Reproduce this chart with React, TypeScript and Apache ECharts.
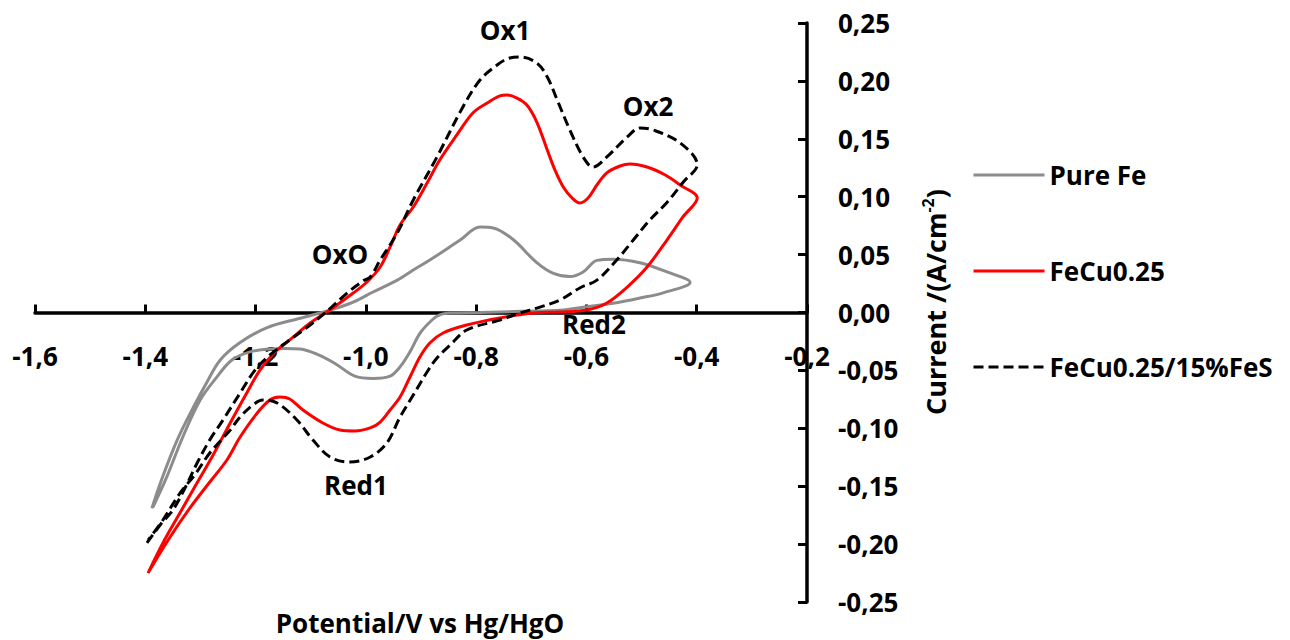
import React, { useEffect, useRef } from "react";
import * as echarts from "echarts";

// ---- Data (potential V vs Hg/HgO, current A/cm^2) ----
const seriesNames = ["Pure Fe", "FeCu0.25", "FeCu0.25/15%FeS"];

const pureFeAnodic: number[][] = [
  [-1.388, -0.169], [-1.371, -0.145], [-1.342, -0.110], [-1.313, -0.082], [-1.288, -0.060],
  [-1.264, -0.041], [-1.228, -0.026], [-1.179, -0.013], [-1.119, -0.005], [-1.065, 0.002],
  [-1.023, 0.009], [-0.987, 0.0177], [-0.943, 0.028], [-0.914, 0.0367], [-0.884, 0.0453],
  [-0.829, 0.0626], [-0.793, 0.0738], [-0.769, 0.073], [-0.733, 0.063], [-0.690, 0.043],
  [-0.661, 0.034], [-0.630, 0.031], [-0.606, 0.035], [-0.581, 0.045], [-0.552, 0.046],
  [-0.503, 0.043], [-0.454, 0.035], [-0.412, 0.026],
];
const pureFeCathodic: number[][] = [
  [-0.461, 0.017], [-0.503, 0.0125], [-0.552, 0.008], [-0.599, 0.005], [-0.648, 0.002],
  [-0.720, 0.001], [-0.793, 0.0], [-0.847, -0.0005], [-0.866, -0.002], [-0.880, -0.0065],
  [-0.902, -0.018], [-0.920, -0.034], [-0.938, -0.047], [-0.956, -0.055], [-0.987, -0.057],
  [-1.020, -0.055], [-1.056, -0.044], [-1.089, -0.036], [-1.119, -0.0315], [-1.147, -0.031],
  [-1.174, -0.0315], [-1.210, -0.034], [-1.243, -0.041], [-1.274, -0.058], [-1.301, -0.076],
  [-1.332, -0.1075], [-1.361, -0.142], [-1.386, -0.168],
];

const feCuAnodic: number[][] = [
  [-1.395, -0.225], [-1.368, -0.199], [-1.337, -0.173], [-1.306, -0.147], [-1.277, -0.123],
  [-1.246, -0.0954], [-1.216, -0.0695], [-1.192, -0.0497], [-1.165, -0.0341], [-1.138, -0.0237],
  [-1.101, -0.0091], [-1.060, 0.0039], [-1.023, 0.0168], [-0.998, 0.0263], [-0.974, 0.0393],
  [-0.956, 0.0566], [-0.938, 0.0756], [-0.914, 0.0911], [-0.889, 0.1118], [-0.866, 0.1317],
  [-0.835, 0.1533], [-0.806, 0.1723], [-0.780, 0.1809], [-0.757, 0.187], [-0.744, 0.1878],
  [-0.726, 0.1852], [-0.708, 0.1792], [-0.690, 0.1645], [-0.671, 0.1403], [-0.657, 0.123],
  [-0.642, 0.1084], [-0.626, 0.0989], [-0.612, 0.0946], [-0.597, 0.0989], [-0.581, 0.1101],
  [-0.563, 0.1205], [-0.539, 0.1265], [-0.521, 0.1282], [-0.490, 0.1256], [-0.457, 0.1187],
  [-0.430, 0.1101], [-0.399, 0.0989],
];
const feCuCathodic: number[][] = [
  [-0.425, 0.0825], [-0.454, 0.0626], [-0.490, 0.0393], [-0.526, 0.022], [-0.563, 0.0082],
  [-0.599, 0.0022], [-0.648, 0.0004], [-0.697, -0.0004], [-0.757, -0.0047], [-0.817, -0.0108],
  [-0.860, -0.0177], [-0.884, -0.0263], [-0.902, -0.0384], [-0.920, -0.0557], [-0.938, -0.073],
  [-0.956, -0.0842], [-0.974, -0.0946], [-0.992, -0.0997], [-1.020, -0.1023], [-1.047, -0.1015],
  [-1.078, -0.0954], [-1.114, -0.0842], [-1.138, -0.0747], [-1.156, -0.073], [-1.174, -0.0756],
  [-1.197, -0.0868], [-1.228, -0.1075], [-1.252, -0.1274], [-1.283, -0.1464], [-1.319, -0.1688],
  [-1.355, -0.1939], [-1.395, -0.225],
];

const feCuFeSAnodic: number[][] = [
  [-1.397, -0.199], [-1.373, -0.1835], [-1.350, -0.1706], [-1.328, -0.1516], [-1.306, -0.130],
  [-1.283, -0.110], [-1.259, -0.0928], [-1.228, -0.0695], [-1.201, -0.0497], [-1.174, -0.0367],
  [-1.138, -0.0237], [-1.101, -0.0108], [-1.074, -0.0004], [-1.034, 0.0168], [-1.005, 0.0272],
  [-0.992, 0.0307], [-0.974, 0.0453], [-0.943, 0.0687], [-0.914, 0.0972], [-0.871, 0.1343],
  [-0.824, 0.1775], [-0.793, 0.2008], [-0.762, 0.2137], [-0.739, 0.2198], [-0.720, 0.2206],
  [-0.690, 0.2155], [-0.671, 0.2034], [-0.653, 0.1835], [-0.630, 0.1576], [-0.606, 0.1343],
  [-0.588, 0.1256], [-0.563, 0.1343], [-0.526, 0.1516], [-0.503, 0.1593], [-0.479, 0.1576],
  [-0.430, 0.1464], [-0.399, 0.1277],
];
const feCuFeSCathodic: number[][] = [
  [-0.425, 0.1123], [-0.454, 0.095], [-0.485, 0.0799], [-0.515, 0.0626], [-0.545, 0.0453],
  [-0.581, 0.028], [-0.612, 0.0212], [-0.648, 0.0108], [-0.684, 0.0047], [-0.720, -0.0004],
  [-0.757, -0.0065], [-0.817, -0.0151], [-0.847, -0.0281], [-0.871, -0.0393], [-0.889, -0.0514],
  [-0.914, -0.0713], [-0.938, -0.0903], [-0.962, -0.1127], [-0.992, -0.1248], [-1.029, -0.1291],
  [-1.065, -0.1248], [-1.096, -0.1101], [-1.125, -0.0928], [-1.161, -0.0781], [-1.187, -0.0756],
  [-1.205, -0.0799], [-1.228, -0.0902], [-1.246, -0.1015], [-1.283, -0.1213], [-1.310, -0.140],
  [-1.337, -0.1559], [-1.368, -0.1792], [-1.395, -0.1965],
];

const annotations = [
  { text: "Ox1", x: 505, y: 30 },
  { text: "Ox2", x: 648, y: 106 },
  { text: "OxO", x: 340, y: 254 },
  { text: "Red1", x: 356, y: 485 },
  { text: "Red2", x: 594, y: 324 },
];

const FONT = "'Open Sans', 'Noto Sans', sans-serif";

// grid geometry
const GRID_TOP = 23;
const GRID_BOTTOM = 38;
const CHART_H = 640;

export default function App() {
  const ref = useRef<HTMLDivElement>(null);

  useEffect(() => {
    if (!ref.current) return;
    const chart = echarts.init(ref.current, undefined, { renderer: "svg" });

    const lineSeries = (name: string, data: number[][], color: string, type: any) => ({
      name,
      type: "line",
      data,
      smooth: 0.35,
      symbol: "none",
      showSymbol: false,
      lineStyle: { color, width: 3, type },
      itemStyle: { color },
      emphasis: { disabled: true },
    });

    // x axis line sits at current = 0: the middle of the symmetric y range
    const gridH = CHART_H - GRID_TOP - GRID_BOTTOM;
    const yMin = -0.25;
    const yMax = 0.25;
    const zeroOffset = (gridH * (0 - yMin)) / (yMax - yMin);

    const option: any = {
      animation: false,
      backgroundColor: "#ffffff",
      grid: {
        left: 35,
        right: 483,
        top: GRID_TOP,
        bottom: GRID_BOTTOM,
        containLabel: false,
        outerBoundsMode: "none",
      },
      xAxis: {
        type: "value",
        position: "bottom",
        offset: -zeroOffset,
        min: -1.6,
        max: -0.2,
        interval: 0.2,
        axisLine: { show: true, onZero: false, lineStyle: { color: "#000", width: 3.5 } },
        axisTick: { show: true, inside: true, length: 8, lineStyle: { color: "#000", width: 3 } },
        axisLabel: {
          margin: 30,
          color: "#000",
          fontSize: 26,
          fontWeight: "bold",
          fontFamily: FONT,
          formatter: (v: number) => v.toFixed(1).replace(".", ","),
        },
        splitLine: { show: false },
      },
      yAxis: {
        type: "value",
        position: "right",
        min: yMin,
        max: yMax,
        interval: 0.05,
        axisLine: { show: true, onZero: false, lineStyle: { color: "#000", width: 3.5 } },
        axisTick: { show: true, inside: true, length: 9, lineStyle: { color: "#000", width: 3 } },
        axisLabel: {
          margin: 31,
          align: "left",
          color: "#000",
          fontSize: 26,
          fontWeight: "bold",
          fontFamily: FONT,
          formatter: (v: number) => v.toFixed(2).replace(".", ","),
        },
        splitLine: { show: false },
      },
      legend: {
        orient: "vertical",
        left: 967,
        top: 157,
        itemWidth: 71,
        itemHeight: 26,
        itemGap: 70,
        data: seriesNames,
        itemStyle: { opacity: 0 },
        lineStyle: { width: 3 },
        textStyle: { fontSize: 26, fontWeight: "bold", color: "#000", fontFamily: FONT, lineHeight: 26 },
      },
      series: [
        lineSeries(seriesNames[0], [...pureFeAnodic, ...pureFeCathodic], "#8c8c8c", "solid"),
        lineSeries(seriesNames[1], [...feCuAnodic, ...feCuCathodic], "#ff0000", "solid"),
        lineSeries(seriesNames[2], [...feCuFeSAnodic, ...feCuFeSCathodic], "#000000", [10, 5]),
      ],
      graphic: [
        ...annotations.map((a) => ({
          type: "text",
          x: a.x,
          y: a.y,
          silent: true,
          style: {
            text: a.text,
            fill: "#000",
            fontSize: 26,
            fontWeight: "bold",
            fontFamily: FONT,
            lineHeight: 24,
            textAlign: "center",
            textVerticalAlign: "middle",
            align: "center",
            verticalAlign: "middle",
          },
        })),
        {
          type: "text",
          x: 420,
          y: 623,
          silent: true,
          style: {
            text: "Potential/V vs Hg/HgO",
            fill: "#000",
            fontSize: 26,
            fontWeight: "bold",
            fontFamily: FONT,
            textAlign: "center",
            textVerticalAlign: "middle",
            align: "center",
            verticalAlign: "middle",
          },
        },
        {
          type: "text",
          x: 935,
          y: 302,
          rotation: Math.PI / 2,
          silent: true,
          style: {
            text: "Current /(A/cm{sup|-2})",
            fill: "#000",
            fontSize: 27,
            fontWeight: "bold",
            fontFamily: FONT,
            textAlign: "center",
            textVerticalAlign: "middle",
            align: "center",
            verticalAlign: "middle",
            rich: {
              sup: {
                fontSize: 16,
                fontWeight: "bold",
                fontFamily: FONT,
                fill: "#000",
                verticalAlign: "top",
                lineHeight: 30,
              },
            },
          },
        },
      ],
    };

    chart.setOption(option);
    return () => chart.dispose();
  }, []);

  return (
    <div
      ref={ref}
      style={{ position: "absolute", left: 0, top: 0, width: 1290, height: 640, background: "#fff" }}
    />
  );
}
